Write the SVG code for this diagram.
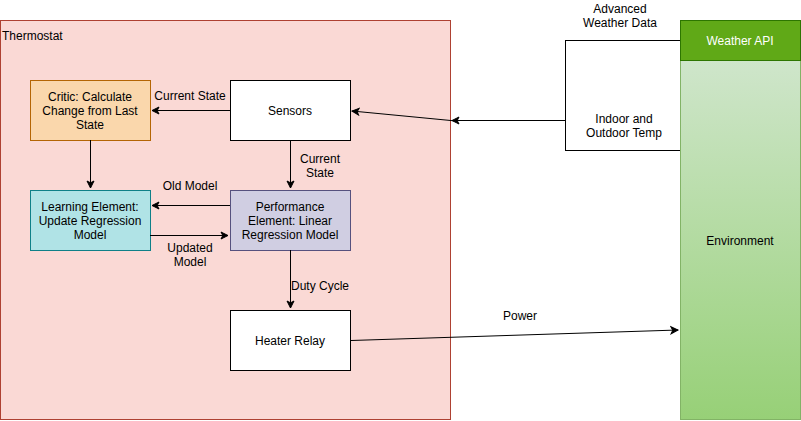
<svg xmlns="http://www.w3.org/2000/svg" width="801" height="421" viewBox="0 0 801 421">
<defs>
<marker id="arr" markerWidth="10" markerHeight="10" refX="8" refY="5" orient="auto" markerUnits="userSpaceOnUse">
<path d="M1,1.5 L8,5 L1,8.5 L2.8,5 Z" fill="#000" stroke="#000" stroke-width="1"/>
</marker>
<linearGradient id="env" x1="0" y1="0" x2="0" y2="1">
<stop offset="0" stop-color="#d5e8d4"/>
<stop offset="1" stop-color="#97d077"/>
</linearGradient>
<style>
text{font-family:"Liberation Sans",Arial,sans-serif;font-size:12px;fill:#000}
.c{text-anchor:middle}
.e{fill:none;stroke:#000;stroke-width:1}
</style>
</defs>
<rect width="801" height="421" fill="#fff"/>
<g id="thermostat">
<rect x="0.5" y="20.5" width="450" height="399" fill="#fad9d5" stroke="#ae4132"/>
<text x="2" y="40">Thermostat</text>
</g>
<g id="indoor-temp">
<rect x="565.5" y="40.5" width="115" height="110" fill="#fff" stroke="#000"/>
<text class="c" x="624" y="123">Indoor and</text>
<text class="c" x="624" y="137">Outdoor Temp</text>
</g>
<g id="weather-api">
<rect x="680.5" y="20.5" width="120" height="399" fill="url(#env)" stroke="#82b366"/>
<rect x="680.5" y="20.5" width="120" height="40" fill="#60a917" stroke="#2d7600"/>
<text class="c" x="740" y="45" style="fill:#fff">Weather API</text>
<text class="c" x="740" y="245">Environment</text>
</g>
<g id="critic">
<rect x="30.5" y="80.5" width="120" height="60" fill="#fad7ac" stroke="#b46504"/>
<text class="c" x="90" y="101">Critic: Calculate</text>
<text class="c" x="90" y="115">Change from Last</text>
<text class="c" x="90" y="129">State</text>
</g>
<g id="sensors">
<rect x="230.5" y="80.5" width="120" height="60" fill="#fff" stroke="#000"/>
<text class="c" x="290" y="115">Sensors</text>
</g>
<g id="learning">
<rect x="30.5" y="190.5" width="120" height="60" fill="#b0e3e6" stroke="#0e8088"/>
<text class="c" x="90" y="211">Learning Element:</text>
<text class="c" x="90" y="225">Update Regression</text>
<text class="c" x="90" y="239">Model</text>
</g>
<g id="performance">
<rect x="230.5" y="190.5" width="120" height="60" fill="#d0cee2" stroke="#56517e"/>
<text class="c" x="290" y="211">Performance</text>
<text class="c" x="290" y="225">Element: Linear</text>
<text class="c" x="290" y="239">Regression Model</text>
</g>
<g id="heater">
<rect x="230.5" y="310.5" width="120" height="60" fill="#fff" stroke="#000"/>
<text class="c" x="290" y="345">Heater Relay</text>
</g>
<g id="connectors">
<path class="e" d="M230,110.5 H152" marker-end="url(#arr)"/>
<path class="e" d="M90.5,140 V188" marker-end="url(#arr)"/>
<path class="e" d="M290.5,140 V188" marker-end="url(#arr)"/>
<path class="e" d="M230,205.5 H152" marker-end="url(#arr)"/>
<path class="e" d="M150,235.5 H228" marker-end="url(#arr)"/>
<path class="e" d="M290.5,250 V308" marker-end="url(#arr)"/>
<path class="e" d="M351,340.5 L678,330" marker-end="url(#arr)"/>
<path class="e" d="M565,120.5 H452" marker-end="url(#arr)"/>
<path class="e" d="M456,121 L352,111" marker-end="url(#arr)"/>
<text class="c" x="190" y="100">Current State</text>
<text class="c" x="320" y="163">Current</text>
<text class="c" x="320" y="177">State</text>
<text class="c" x="190" y="190">Old Model</text>
<text class="c" x="190" y="252">Updated</text>
<text class="c" x="190" y="266">Model</text>
<text class="c" x="320" y="290">Duty Cycle</text>
<text class="c" x="520" y="320">Power</text>
<text class="c" x="620" y="13">Advanced</text>
<text class="c" x="620" y="27">Weather Data</text>
</g>
</svg>
